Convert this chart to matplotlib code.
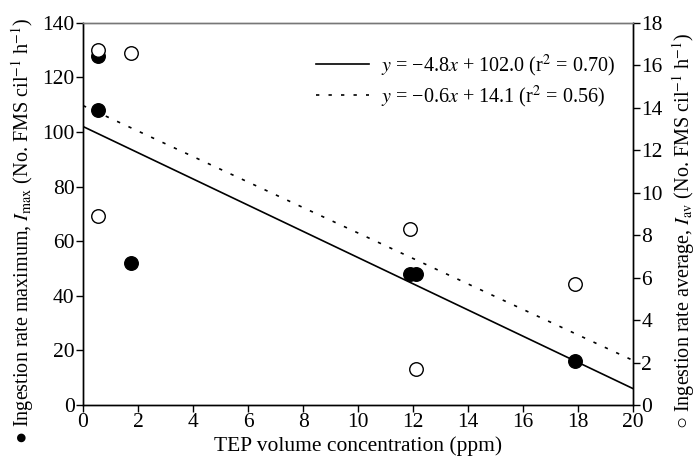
import numpy as np
import matplotlib
matplotlib.use('Agg')
import matplotlib.pyplot as plt
from matplotlib.lines import Line2D

plt.rcParams['font.family'] = ['Liberation Serif', 'DejaVu Serif']
plt.rcParams['mathtext.fontset'] = 'stix'
plt.rcParams['font.size'] = 15.5

# TEP volume concentration (ppm)
tep_max = [0.55, 0.55, 1.75, 11.9, 12.1, 17.9]
imax = [128, 108, 52, 48, 48, 16]

tep_av = [0.55, 0.55, 1.75, 11.9, 12.1, 17.9]
iav = [16.7, 8.9, 16.6, 8.3, 1.7, 5.7]

# regression fits
fit_max = (-4.8, 102.0)
fit_av = (-0.6, 14.1)
x_fit = [0, 20]

fig = plt.figure(figsize=(6.98, 4.65), dpi=100)
ax = fig.add_axes([0.119, 0.129, 0.788, 0.822])
ax2 = ax.twinx()

ax.plot(x_fit, [fit_max[0] * x + fit_max[1] for x in x_fit], color='black', lw=1.2)
ax2.plot(x_fit, [fit_av[0] * x + fit_av[1] for x in x_fit], color='black', lw=1.2,
         linestyle=(0, (2.0, 5.5)))

ax.scatter(tep_max, imax, s=95, color='black', zorder=3)
ax2.scatter(tep_av, iav, s=95, facecolor='white', edgecolor='black', linewidth=1.0, zorder=3)

ax.set_xlim(0, 20)
ax.set_ylim(0, 140)
ax2.set_ylim(0, 18)
ax.set_xticks(range(0, 21, 2))
ax.set_yticks(range(0, 141, 20))
ax2.set_yticks(range(0, 19, 2))

for a in (ax, ax2):
    a.tick_params(direction='out', length=5, width=1, pad=1)
    for s in a.spines.values():
        s.set_linewidth(1.0)
ax.spines['top'].set_color('#777777')
ax2.spines['top'].set_color('#777777')

ax.set_xlabel('TEP volume concentration (ppm)', labelpad=3)
ax.set_ylabel('\u25cf Ingestion rate maximum, $I_{\\rm max}$ (No. FMS cil$^{-1}$ h$^{-1}$)',
              family=['Liberation Serif', 'DejaVu Sans'], fontsize=14.5)
ax2.set_ylabel('\u25cb Ingestion rate average, $I_{\\rm av}$ (No. FMS cil$^{-1}$ h$^{-1}$)',
               family=['Liberation Serif', 'DejaVu Sans'], fontsize=14.5)
ax.yaxis.set_label_coords(-0.085, 0.455)
ax2.yaxis.set_label_coords(1.068, 0.455)

handles = [Line2D([], [], color='black', lw=1.2),
           Line2D([], [], color='black', lw=1.2, linestyle=(0, (2.0, 5.5)))]
labels = ['$y$ = \u22124.8$x$ + 102.0 (r$^2$ = 0.70)',
          '$y$ = \u22120.6$x$ + 14.1 (r$^2$ = 0.56)']
ax.legend(handles, labels, loc='upper right', frameon=False, fontsize=14.5,
          handlelength=2.6, handletextpad=0.6, bbox_to_anchor=(1.0, 0.97),
          labelspacing=0.25)

fig.savefig('out.png', dpi=100)
